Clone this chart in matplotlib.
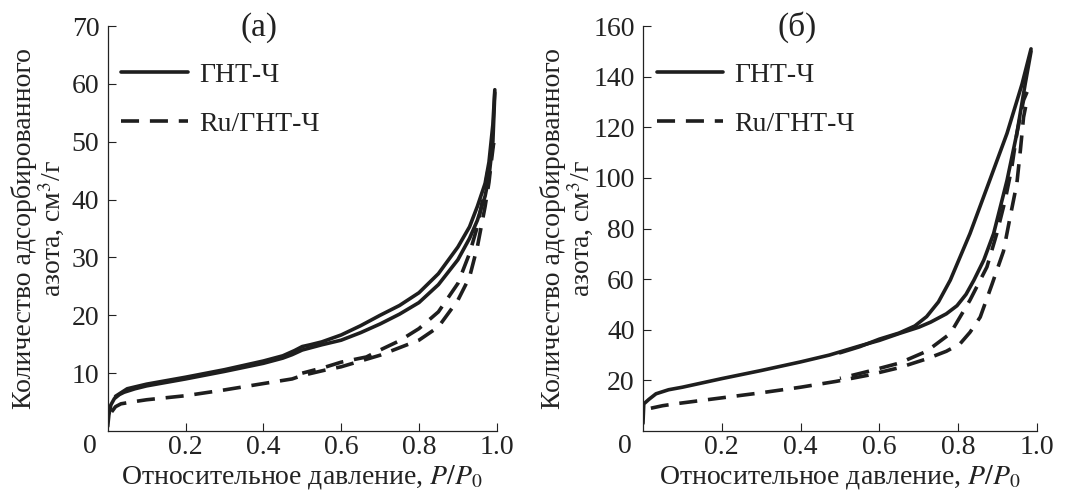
import matplotlib
matplotlib.use("Agg")
from matplotlib import pyplot as plt

plt.rcParams['font.family'] = ['Liberation Serif', 'DejaVu Serif']
plt.rcParams['mathtext.fontset'] = 'stix'
plt.rcParams['font.size'] = 20

# panel (а): ГНТ-Ч, adsorption (lower) and desorption (upper) branches
a_solid_ads_p = [0.0, 0.003, 0.008, 0.017, 0.03, 0.042, 0.07, 0.1, 0.15, 0.2, 0.3, 0.4, 0.45,
                 0.474, 0.5, 0.55, 0.6, 0.65, 0.7, 0.75, 0.8, 0.85, 0.9, 0.93, 0.95, 0.97,
                 0.98, 0.99, 0.995]
a_solid_ads_v = [0.8, 2.8, 4.5, 5.6, 6.3, 6.7, 7.3, 7.8, 8.4, 9.0, 10.3, 11.7, 12.6,
                 13.2, 14.0, 14.9, 15.7, 17.0, 18.5, 20.2, 22.2, 25.3, 29.6, 33.3, 36.4, 40.6,
                 44.0, 50.0, 58.5]
a_solid_des_p = [0.995, 0.99, 0.98, 0.97, 0.95, 0.93, 0.9, 0.85, 0.8, 0.75, 0.7, 0.65, 0.6,
                 0.55, 0.52, 0.5, 0.48, 0.45, 0.4, 0.3, 0.2, 0.1, 0.05, 0.02]
a_solid_des_v = [59.0, 53.0, 46.5, 42.8, 38.8, 35.3, 31.8, 27.2, 23.9, 21.7, 20.0, 18.2, 16.6,
                 15.4, 14.9, 14.6, 13.9, 13.0, 12.1, 10.6, 9.3, 8.1, 7.3, 6.0]
# panel (а): Ru/ГНТ-Ч
a_dash_ads_p = [0.01, 0.02, 0.034, 0.07, 0.1, 0.2, 0.3, 0.4, 0.474, 0.5, 0.557, 0.6, 0.7,
                0.8, 0.85, 0.9, 0.93, 0.95, 0.97, 0.98, 0.985, 0.992]
a_dash_ads_v = [3.3, 4.2, 4.7, 5.1, 5.4, 6.1, 7.1, 8.2, 9.0, 9.6, 10.5, 11.1, 13.1,
                15.7, 18.0, 22.6, 26.6, 31.8, 38.8, 43.0, 46.0, 49.8]
a_dash_des_p = [0.992, 0.985, 0.97, 0.95, 0.93, 0.9, 0.85, 0.8, 0.75, 0.7, 0.665, 0.6,
                0.557, 0.5]
a_dash_des_v = [49.8, 48.0, 42.2, 35.3, 30.7, 25.5, 20.6, 17.7, 15.6, 14.0, 12.8, 11.9,
                11.0, 10.0]

# panel (б): ГНТ-Ч
b_solid_ads_p = [0.0, 0.002, 0.015, 0.033, 0.065, 0.1, 0.2, 0.3, 0.4, 0.473, 0.55, 0.6,
                 0.65, 0.7, 0.73, 0.77, 0.797, 0.82, 0.84, 0.865, 0.89, 0.924, 0.949, 0.97,
                 0.985]
b_solid_ads_v = [3.0, 10.7, 12.5, 14.7, 16.3, 17.3, 20.7, 23.9, 27.3, 30.0, 33.6, 35.8,
                 38.5, 41.0, 43.0, 46.3, 49.5, 54.0, 59.6, 67.5, 78.0, 99.0, 117.6, 137.0,
                 150.0]
b_solid_des_p = [0.985, 0.962, 0.924, 0.88, 0.83, 0.78, 0.75, 0.72, 0.69, 0.65, 0.6, 0.55,
                 0.5]
b_solid_des_v = [151.0, 137.0, 117.6, 99.0, 78.0, 59.6, 51.0, 45.2, 41.5, 38.7, 36.3, 33.3,
                 30.9]
# panel (б): Ru/ГНТ-Ч
b_dash_ads_p = [0.02, 0.05, 0.09, 0.2, 0.3, 0.4, 0.49, 0.57, 0.65, 0.72, 0.77, 0.805, 0.83,
                0.856, 0.886, 0.915, 0.932, 0.949, 0.958, 0.966, 0.975]
b_dash_ads_v = [9.0, 10.0, 10.9, 13.1, 15.1, 17.3, 19.6, 22.0, 25.0, 28.5, 31.5, 34.5, 39.0,
                45.0, 58.0, 71.0, 84.6, 97.8, 111.0, 124.0, 131.0]
b_dash_des_p = [0.975, 0.966, 0.949, 0.936, 0.919, 0.898, 0.873, 0.83, 0.78, 0.72, 0.65,
                0.57, 0.5]
b_dash_des_v = [134.0, 130.7, 117.6, 104.0, 91.0, 78.0, 64.8, 51.7, 38.5, 31.5, 26.8,
                23.5, 20.8]

x_ticks = [0.2, 0.4, 0.6, 0.8, 1.0]
x_labels = ['0.2', '0.4', '0.6', '0.8', '1.0']
labels = ['ГНТ-Ч', 'Ru/ГНТ-Ч']
line_col = '#1e1e1e'
txt_col = '#222222'

fig = plt.figure(figsize=(10.72, 4.95), dpi=100)
ax1 = fig.add_axes([0.1005, 0.1293, 0.3629, 0.818])
ax2 = fig.add_axes([0.5998, 0.1293, 0.3675, 0.818])

panels = [
    (ax1, '(а)', 70, range(10, 71, 10),
     (a_solid_ads_p, a_solid_ads_v, a_solid_des_p, a_solid_des_v),
     (a_dash_ads_p, a_dash_ads_v, a_dash_des_p, a_dash_des_v), -0.105),
    (ax2, '(б)', 160, range(20, 161, 20),
     (b_solid_ads_p, b_solid_ads_v, b_solid_des_p, b_solid_des_v),
     (b_dash_ads_p, b_dash_ads_v, b_dash_des_p, b_dash_des_v), -0.118),
]

dash_style = (0, (5.0, 3.0))

for ax, title, ymax, yt, solid, dash, ylab_x in panels:
    l1, = ax.plot(solid[0], solid[1], color=line_col, lw=2.6, label=labels[0],
                  solid_joinstyle='round', solid_capstyle='round')
    ax.plot(solid[2], solid[3], color=line_col, lw=2.6,
            solid_joinstyle='round', solid_capstyle='round')
    l2, = ax.plot(dash[0], dash[1], color=line_col, lw=2.6, ls=dash_style, label=labels[1])
    ax.plot(dash[2], dash[3], color=line_col, lw=2.6, ls=dash_style)

    ax.set_xlim(0, 1.0)
    ax.set_ylim(0, ymax)
    ax.set_xticks(x_ticks)
    ax.set_xticklabels(x_labels)
    ax.set_yticks(list(yt))
    ax.tick_params(direction='in', length=6, width=0.8, pad=6, colors=txt_col)
    ax.tick_params(axis='x', pad=3)
    for s in ['top', 'right']:
        ax.spines[s].set_visible(False)
    for s in ['left', 'bottom']:
        ax.spines[s].set_linewidth(0.9)
        ax.spines[s].set_color(txt_col)

    ax.annotate('0', xy=(0, 0), xycoords='data', xytext=(-13, -2.5),
                textcoords='offset points', ha='center', va='top', color=txt_col)
    ax.set_title(title, y=0.975, x=0.39, pad=0, color=txt_col)
    ax.set_xlabel('Относительное давление, $P/P_0$', color=txt_col)
    ax.xaxis.set_label_coords(0.5, -0.08)
    ax.set_ylabel('Количество адсорбированного\nазота, см$^3$/г', color=txt_col,
                  linespacing=1.0)
    ax.yaxis.set_label_coords(ylab_x, 0.5)

    ax.legend(handles=[l1, l2], loc='upper left', bbox_to_anchor=(0.035, 0.91),
              frameon=False, borderpad=0, borderaxespad=0, handlelength=2.4,
              handletextpad=0.4, labelspacing=0.85, labelcolor=txt_col)

fig.savefig('out.png', dpi=100)
